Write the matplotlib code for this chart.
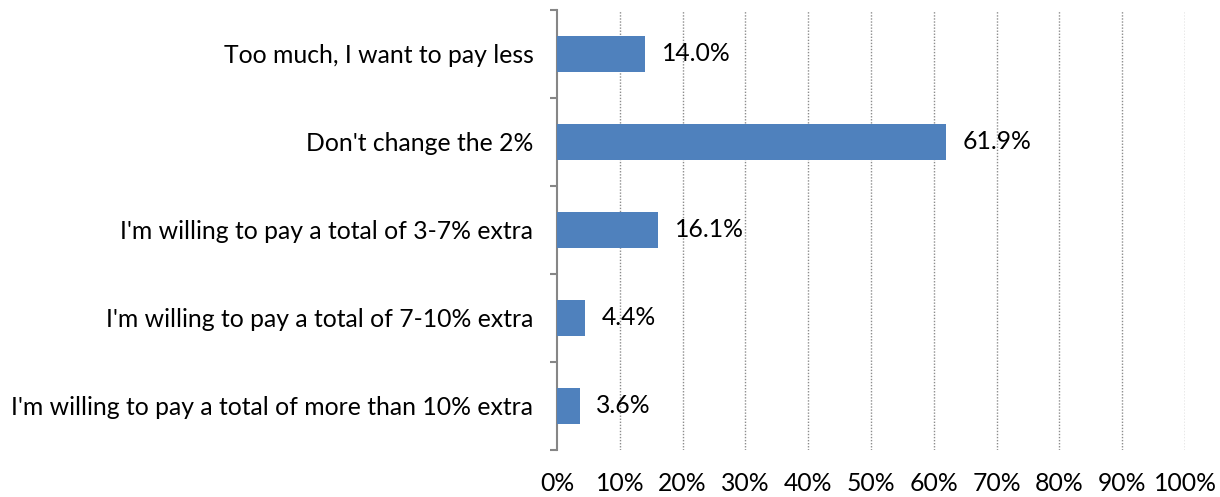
import matplotlib.pyplot as plt
import numpy as np

categories = [
    "Too much, I want to pay less",
    "Don't change the 2%",
    "I'm willing to pay a total of 3-7% extra",
    "I'm willing to pay a total of 7-10% extra",
    "I'm willing to pay a total of more than 10% extra",
]
values = [14.0, 61.9, 16.1, 4.4, 3.6]
x_ticks = [0, 10, 20, 30, 40, 50, 60, 70, 80, 90, 100]

plt.rcParams['font.family'] = ['Lato', 'DejaVu Sans']
FS = 17.8

fig = plt.figure(figsize=(12.2, 4.97), dpi=100)
ax = fig.add_axes([0.4566, 0.0946, 0.5147, 0.8853])

y = np.arange(len(categories))
ax.barh(y, values, height=0.4, color="#4F81BD", zorder=3)

for yi, v in zip(y, values):
    ax.annotate(f"{v:.1f}%", (v, yi), xytext=(12, 0), textcoords="offset points",
                va="center", ha="left", fontsize=FS, zorder=4)

ax.set_xlim(0, 100)
ax.set_ylim(len(categories) - 0.5, -0.5)
ax.set_xticks(x_ticks)
ax.set_xticklabels([f"{t}%" for t in x_ticks], fontsize=FS)
ax.tick_params(axis="x", length=0, pad=16)

# category labels centred in their bands, tick marks on band boundaries
ax.set_yticks(y)
ax.set_yticklabels(categories, fontsize=FS)
ax.tick_params(axis="y", which="major", length=0, pad=17)
ax.set_yticks(np.arange(len(categories) + 1) - 0.5, minor=True)
ax.tick_params(axis="y", which="minor", length=5, width=1.5, color="#868686")

for t in x_ticks[1:]:
    ax.axvline(t, color="#8C8C8C", linestyle=(0, (1, 1.2)), linewidth=1, zorder=1)

for side in ["top", "right", "bottom"]:
    ax.spines[side].set_visible(False)
ax.spines["left"].set_color("#868686")
ax.spines["left"].set_linewidth(1.5)

fig.savefig("out.png", dpi=100)
